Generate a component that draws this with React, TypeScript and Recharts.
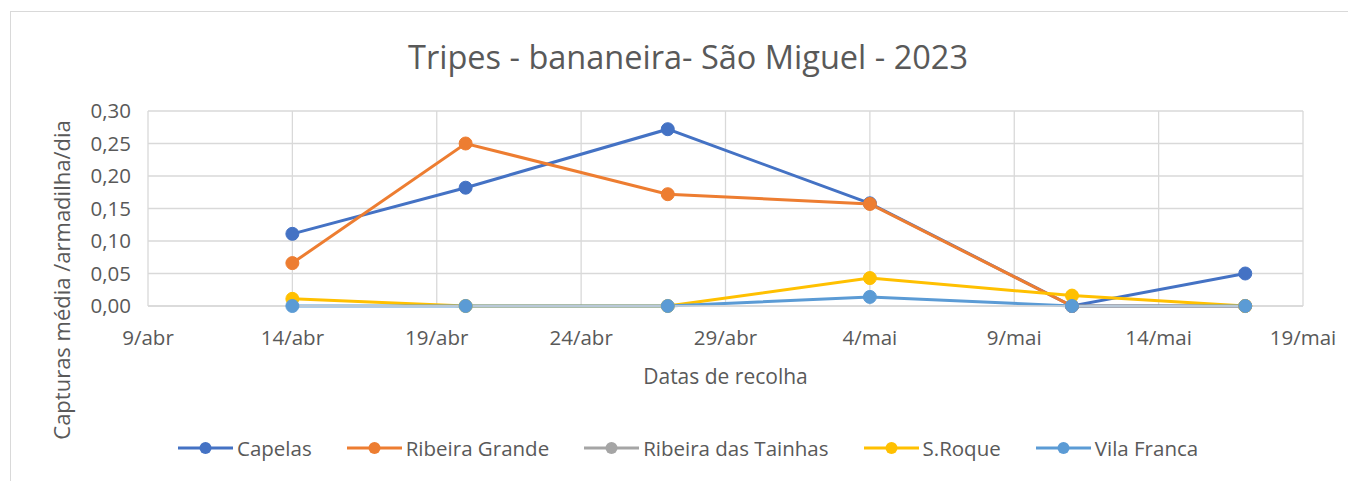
import React from 'react';
import { LineChart, Line, XAxis, YAxis, CartesianGrid } from 'recharts';

// collection dates and mean captures per trap per day
const dates = ['2023-04-14', '2023-04-20', '2023-04-27', '2023-05-04', '2023-05-11', '2023-05-17'];
const capelas = [0.111, 0.182, 0.272, 0.158, 0, 0.05];
const ribeiraGrande = [0.066, 0.25, 0.172, 0.157, 0, 0];
const ribeiraTainhas: (number | null)[] = [null, null, null, null, null, null];
const sRoque = [0.011, 0, 0, 0.043, 0.016, 0];
const vilaFranca = [0, 0, 0, 0.014, 0, 0];

const tickDates = ['2023-04-09', '2023-04-14', '2023-04-19', '2023-04-24', '2023-04-29', '2023-05-04', '2023-05-09', '2023-05-14', '2023-05-19'];
const tickLabels = ['9/abr', '14/abr', '19/abr', '24/abr', '29/abr', '4/mai', '9/mai', '14/mai', '19/mai'];
const yTicks = [0, 0.05, 0.1, 0.15, 0.2, 0.25, 0.3];

const seriesList = [
  { key: 'capelas', name: 'Capelas', color: '#4472C4', values: capelas },
  { key: 'ribeiraGrande', name: 'Ribeira Grande', color: '#ED7D31', values: ribeiraGrande },
  { key: 'ribeiraTainhas', name: 'Ribeira das Tainhas', color: '#A5A5A5', values: ribeiraTainhas },
  { key: 'sRoque', name: 'S.Roque', color: '#FFC000', values: sRoque },
  { key: 'vilaFranca', name: 'Vila Franca', color: '#5B9BD5', values: vilaFranca },
];

const toDay = (s: string) => {
  const [y, m, d] = s.split('-').map(Number);
  return Date.UTC(y, m - 1, d) / 86400000;
};
const start = toDay(tickDates[0]);
const tickDays = tickDates.map((t) => toDay(t) - start);

const data = dates.map((d, i) => {
  const row: Record<string, number | null> = { day: toDay(d) - start };
  seriesList.forEach((s) => {
    row[s.key] = s.values[i];
  });
  return row;
});

const FONT = "'Open Sans', sans-serif";
const tickStyle = { fill: '#595959', fontSize: 20.5, fontFamily: FONT };

export default function App() {
  return (
    <div style={{ position: 'relative', width: 1348, height: 473, overflow: 'hidden', fontFamily: FONT }}>
      <div
        style={{
          position: 'absolute',
          left: 2,
          top: 3,
          width: 1400,
          height: 600,
          border: '1px solid #d9d9d9',
        }}
      />
      <div
        style={{
          position: 'absolute',
          left: 0,
          top: 26,
          width: 1360,
          textAlign: 'center',
          fontSize: 32.5,
          color: '#595959',
        }}
      >
        Tripes - bananeira- São Miguel - 2023
      </div>
      <div
        style={{
          position: 'absolute',
          left: 53,
          top: 272,
          transform: 'translate(-50%, -50%) rotate(-90deg)',
          whiteSpace: 'nowrap',
          fontSize: 22,
          color: '#595959',
        }}
      >
        Capturas média /armadilha/dia
      </div>
      <div
        style={{
          position: 'absolute',
          left: 0,
          top: 354,
          width: 1435,
          textAlign: 'center',
          fontSize: 21,
          color: '#595959',
        }}
      >
        Datas de recolha
      </div>

      <div style={{ position: 'absolute', left: 0, top: 0 }}>
        <LineChart
          width={1348}
          height={473}
          data={data}
          margin={{ top: 103, right: 53, left: 60, bottom: 145 }}
        >
          <CartesianGrid stroke="#d9d9d9" strokeWidth={1.3} />
          <XAxis
            type="number"
            dataKey="day"
            domain={[0, 40]}
            ticks={tickDays}
            tickFormatter={(v: number) => tickLabels[tickDays.indexOf(v)] ?? ''}
            tick={tickStyle}
            axisLine={{ stroke: '#d9d9d9', strokeWidth: 1.3 }}
            tickLine={false}
            tickSize={0}
            tickMargin={24}
            height={30}
            interval={0}
          />
          <YAxis
            type="number"
            domain={[0, 0.3]}
            ticks={yTicks}
            tickFormatter={(v: number) => v.toFixed(2).replace('.', ',')}
            tick={tickStyle}
            axisLine={false}
            tickLine={false}
            tickSize={0}
            tickMargin={17}
            width={80}
            interval={0}
          />
          {seriesList.map((s) => (
            <Line
              key={s.key}
              dataKey={s.key}
              name={s.name}
              stroke={s.color}
              strokeWidth={3}
              dot={{ r: 6.5, fill: s.color, stroke: s.color, strokeWidth: 1 }}
              activeDot={false}
              isAnimationActive={false}
            />
          ))}
        </LineChart>
      </div>

      <div
        style={{
          position: 'absolute',
          left: 170,
          top: 426,
          display: 'flex',
          alignItems: 'center',
          gap: 35,
          fontSize: 20.5,
          color: '#595959',
        }}
      >
        {seriesList.map((s) => (
          <div key={s.key} style={{ display: 'flex', alignItems: 'center' }}>
            <svg width={55} height={16}>
              <line x1={0} y1={8} x2={55} y2={8} stroke={s.color} strokeWidth={3} />
              <circle cx={27.5} cy={8} r={6} fill={s.color} />
            </svg>
            <span style={{ marginLeft: 4 }}>{s.name}</span>
          </div>
        ))}
      </div>
    </div>
  );
}
